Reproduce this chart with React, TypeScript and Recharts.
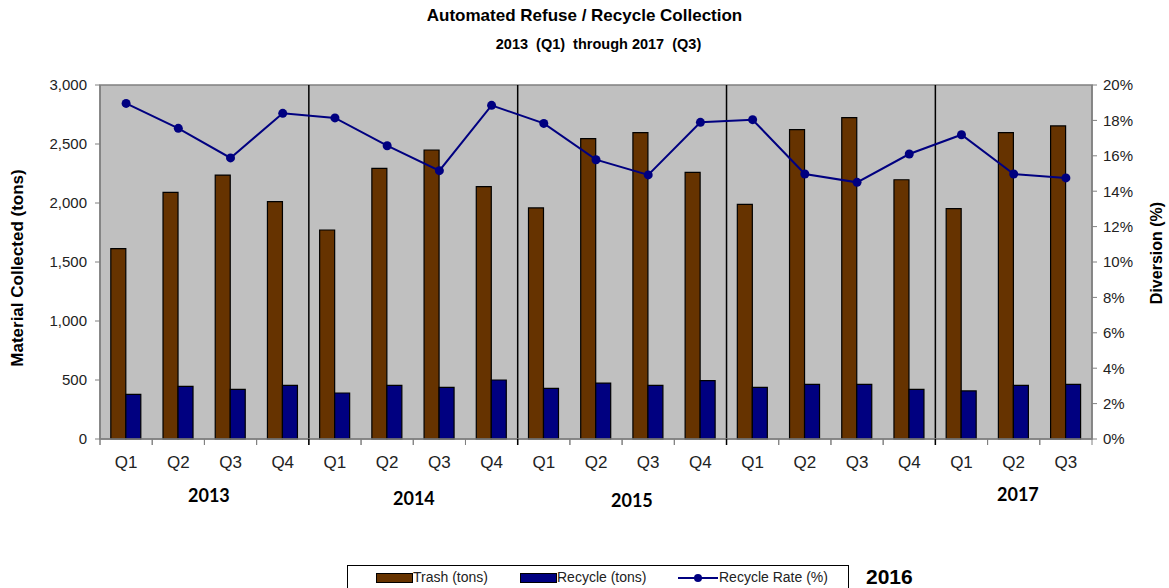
import {
  ComposedChart, Bar, Line, XAxis, YAxis, ReferenceArea, ReferenceLine,
} from "recharts";

const periods = [
  "2013 Q1", "2013 Q2", "2013 Q3", "2013 Q4",
  "2014 Q1", "2014 Q2", "2014 Q3", "2014 Q4",
  "2015 Q1", "2015 Q2", "2015 Q3", "2015 Q4",
  "2016 Q1", "2016 Q2", "2016 Q3", "2016 Q4",
  "2017 Q1", "2017 Q2", "2017 Q3",
];
const trashTons = [
  1613, 2090, 2237, 2011,
  1771, 2293, 2449, 2138,
  1958, 2545, 2596, 2260,
  1988, 2621, 2723, 2197,
  1952, 2596, 2653,
];
const recycleTons = [
  378, 446, 420, 454,
  390, 454, 437, 500,
  429, 474, 454, 494,
  437, 463, 463, 420,
  407, 454, 463,
];
const recycleRate = [
  18.96, 17.55, 15.88, 18.4,
  18.14, 16.57, 15.16, 18.85,
  17.83, 15.78, 14.92, 17.89,
  18.04, 14.97, 14.5, 16.1,
  17.19, 14.97, 14.75,
];
const years = ["2013", "2014", "2015", "2016", "2017"];
const yearStarts = ["2014 Q1", "2015 Q1", "2016 Q1", "2017 Q1"];
const tonTicks = [0, 500, 1000, 1500, 2000, 2500, 3000];
const pctTicks = [0, 2, 4, 6, 8, 10, 12, 14, 16, 18, 20];

// where the year captions sit (the 2016 one ended up beside the legend)
const yearPos = [
  { left: 188, top: 484 },
  { left: 393, top: 487 },
  { left: 611, top: 489 },
  { left: 866, top: 565 },
  { left: 997, top: 483 },
];

const data = periods.map((p, i) => ({
  p,
  trash: trashTons[i],
  recycle: recycleTons[i],
  rate: recycleRate[i],
}));

const ARIAL = "'Liberation Sans', Arial, sans-serif";
const AXIS_GREY = "#808080";
const TICK_OFF = 17; // tickSize 6 + tickMargin 11

// quarter label plus the Excel-style tick mark on the band edges
const QuarterTick = (props: any) => {
  const { x, y, payload, index } = props;
  const half = payload.offset ?? 0;
  const axisY = y - TICK_OFF;
  const isYearStart = yearStarts.includes(payload.value);
  return (
    <g>
      {index === 0 && (
        <line x1={x - half} x2={x - half} y1={axisY} y2={axisY + 6} stroke={AXIS_GREY} />
      )}
      <line x1={x - half} x2={x - half} y1={axisY} y2={axisY + 6}
        stroke={isYearStart ? "#000" : AXIS_GREY} strokeWidth={isYearStart ? 1.5 : 1} />
      <line x1={x + half} x2={x + half} y1={axisY} y2={axisY + 6} stroke={AXIS_GREY} />
      <text x={x} y={y} dy="0.71em" textAnchor="middle" fill="#222" fontSize={17} fontFamily={ARIAL}>
        {String(payload.value).split(" ")[1]}
      </text>
    </g>
  );
};

export default function App() {
  const tickStyle = { fill: "#222", fontSize: 15, fontFamily: ARIAL };
  return (
    <div style={{ position: "absolute", left: 0, top: 0, width: 1169, height: 588, background: "#fff", fontFamily: ARIAL, overflow: "hidden" }}>
      <div style={{ position: "absolute", left: 0, width: 1169, top: 6, textAlign: "center", fontWeight: "bold", fontSize: 17, color: "#000" }}>
        Automated Refuse / Recycle Collection
      </div>
      <div style={{ position: "absolute", left: 14, width: 1169, top: 36, textAlign: "center", fontWeight: "bold", fontSize: 14.5, color: "#000", whiteSpace: "pre" }}>
        {"2013  (Q1)  through 2017  (Q3)"}
      </div>

      <ComposedChart
        width={1169}
        height={588}
        data={data}
        margin={{ top: 85, right: 0, bottom: 109, left: 0 }}
        barCategoryGap="20.7%"
        barGap={0}
      >
        <XAxis
          dataKey="p"
          height={40}
          interval={0}
          tickLine={false}
          axisLine={{ stroke: AXIS_GREY, strokeWidth: 1.5 }}
          tick={<QuarterTick />}
          tickSize={6}
          tickMargin={11}
        />
        <YAxis
          yAxisId="l"
          orientation="left"
          width={100}
          domain={[0, 3000]}
          ticks={tonTicks}
          tickFormatter={(v: number) => v.toLocaleString("en-US")}
          tick={tickStyle}
          tickSize={5}
          tickMargin={8}
          tickLine={{ stroke: AXIS_GREY }}
          axisLine={{ stroke: AXIS_GREY, strokeWidth: 1.5 }}
        />
        <YAxis
          yAxisId="r"
          orientation="right"
          width={77}
          domain={[0, 20]}
          ticks={pctTicks}
          tickFormatter={(v: number) => `${v}%`}
          tick={tickStyle}
          tickSize={5}
          tickMargin={6}
          tickLine={{ stroke: AXIS_GREY }}
          axisLine={{ stroke: AXIS_GREY, strokeWidth: 1.5 }}
        />

        <ReferenceArea
          yAxisId="l" y1={0} y2={3000}
          ifOverflow="visible"
          fill="#C0C0C0" fillOpacity={1} stroke={AXIS_GREY} strokeWidth={1.5}
        />
        {yearStarts.map((s) => (
          <ReferenceLine
            key={`y${s}`}
            yAxisId="l"
            x={s}
            position="start"
            stroke="#000"
            strokeWidth={1.5}
          />
        ))}

        <Bar yAxisId="l" dataKey="trash" fill="#663300" stroke="#000" strokeWidth={1.2} isAnimationActive={false} />
        <Bar yAxisId="l" dataKey="recycle" fill="#000080" stroke="#000" strokeWidth={1.2} isAnimationActive={false} />
        <Line
          yAxisId="r" dataKey="rate" type="linear"
          stroke="#000080" strokeWidth={2}
          dot={{ r: 4.5, fill: "#000080", stroke: "#000080", strokeWidth: 0 }}
          activeDot={false}
          isAnimationActive={false}
        />
      </ComposedChart>

      {/* axis titles */}
      <div style={{
        position: "absolute", left: 18, top: 268, transform: "translate(-50%, -50%) rotate(-90deg)",
        whiteSpace: "nowrap", fontWeight: "bold", fontSize: 17, color: "#000",
      }}>
        Material Collected (tons)
      </div>
      <div style={{
        position: "absolute", left: 1157, top: 253, transform: "translate(-50%, -50%) rotate(-90deg)",
        whiteSpace: "nowrap", fontWeight: "bold", fontSize: 16, color: "#000",
      }}>
        Diversion (%)
      </div>

      {years.map((y, i) => (
        <div
          key={y}
          style={{
            position: "absolute", left: yearPos[i].left, top: yearPos[i].top,
            fontWeight: "bold",
            fontSize: y === "2016" ? 21 : 18,
            fontFamily: y === "2016" ? ARIAL : "Lato, sans-serif",
            color: "#000",
          }}
        >
          {y}
        </div>
      ))}

      <div style={{
        position: "absolute", left: 347, top: 565, width: 502, height: 40,
        border: "1px solid #000", boxSizing: "border-box", background: "#fff",
      }}>
        <div style={{ position: "absolute", left: 28, top: 7, width: 35, height: 8, background: "#663300", border: "1px solid #000" }} />
        <div style={{ position: "absolute", left: 65, top: 3, fontSize: 14, color: "#222" }}>Trash (tons)</div>
        <div style={{ position: "absolute", left: 172, top: 7, width: 35, height: 8, background: "#000080", border: "1px solid #000" }} />
        <div style={{ position: "absolute", left: 209, top: 3, fontSize: 14, color: "#222" }}>Recycle (tons)</div>
        <div style={{ position: "absolute", left: 330, top: 11, width: 40, height: 2, background: "#000080" }} />
        <div style={{ position: "absolute", left: 346, top: 8, width: 8, height: 8, borderRadius: 4, background: "#000080" }} />
        <div style={{ position: "absolute", left: 371, top: 3, fontSize: 14, color: "#222" }}>Recycle Rate (%)</div>
      </div>
    </div>
  );
}
